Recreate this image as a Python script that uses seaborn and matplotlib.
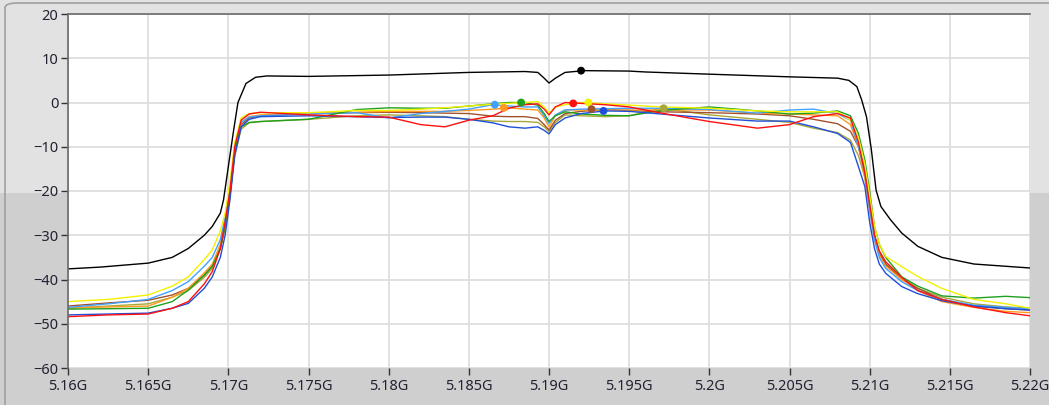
import matplotlib
matplotlib.use("Agg")
import matplotlib.pyplot as plt
import numpy as np
import pandas as pd
import seaborn as sns
from matplotlib.patches import FancyBboxPatch, Rectangle
from matplotlib.ticker import FuncFormatter

# reference trace (black)
REF_FREQ = [5.1600, 5.1620, 5.1650, 5.1665, 5.1675, 5.1685, 5.1690, 5.1695, 5.1697, 5.1701,
            5.1703, 5.1706, 5.1711, 5.1717, 5.1724, 5.1750, 5.1800, 5.1850, 5.1885, 5.1893,
            5.1897, 5.1900, 5.1904, 5.1910, 5.1922, 5.1950, 5.1960, 5.2000, 5.2050, 5.2080,
            5.2087, 5.2092, 5.2095, 5.2098, 5.2101, 5.2104, 5.2107, 5.2113, 5.2120, 5.2130,
            5.2145, 5.2165, 5.2200]
REF_DB = [-37.6, -37.2, -36.3, -35.0, -33.0, -30.0, -28.0, -25.0, -22.0, -12.0,
          -7.0, 0.0, 4.3, 5.7, 6.0, 5.9, 6.2, 6.8, 7.0, 6.8,
          5.5, 4.4, 5.5, 6.8, 7.2, 7.1, 6.9, 6.4, 5.8, 5.5,
          5.0, 3.6, 0.6, -3.2, -10.5, -19.8, -23.5, -26.5, -29.5, -32.5,
          -35.0, -36.5, -37.4]

# shared frequency grid for the coloured traces (GHz)
FREQ = [5.1600, 5.1625, 5.1650, 5.1665, 5.1675, 5.1685, 5.1690, 5.1695, 5.1698, 5.1701,
        5.1704, 5.1708, 5.1713, 5.1720, 5.1750, 5.1780, 5.1800, 5.1820, 5.1835, 5.1850,
        5.1865, 5.1875, 5.1885, 5.1893, 5.1897, 5.1900, 5.1904, 5.1910, 5.1920, 5.1935,
        5.1950, 5.1970, 5.2000, 5.2030, 5.2050, 5.2065, 5.2080, 5.2088, 5.2093, 5.2097,
        5.2100, 5.2103, 5.2106, 5.2110, 5.2120, 5.2130, 5.2145, 5.2165, 5.2185, 5.2200]

RED_DB = [-48.4, -48.0, -47.8, -46.5, -45.0, -41.0, -38.2, -33.0, -27.0, -20.0,
          -10.0, -4.0, -2.6, -2.2, -2.8, -3.2, -3.3, -5.0, -5.5, -4.0,
          -3.0, -1.3, -0.5, -0.3, -1.5, -2.8, -1.0, 0.0, -0.2, -0.5,
          -1.0, -2.4, -4.3, -5.8, -5.0, -3.2, -2.5, -3.5, -9.0, -16.0,
          -23.0, -30.0, -33.5, -36.0, -39.5, -42.5, -44.5, -46.2, -47.5, -48.2]
BLUE_DB = [-48.0, -47.8, -47.6, -46.5, -45.4, -42.0, -39.4, -35.0, -30.0, -22.0,
           -12.0, -5.5, -3.8, -3.2, -3.0, -3.2, -3.4, -3.3, -3.3, -3.8,
           -4.6, -5.5, -5.8, -5.5, -6.3, -7.1, -5.0, -3.5, -2.5, -1.9,
           -2.0, -2.6, -3.5, -4.2, -4.2, -5.5, -7.0, -9.0, -14.5, -19.0,
           -27.0, -33.0, -36.5, -38.6, -41.6, -43.2, -44.8, -46.0, -46.6, -46.9]
GREEN_DB = [-46.7, -46.6, -46.5, -45.0, -42.4, -39.0, -37.0, -33.0, -28.0, -21.0,
            -11.0, -5.5, -4.5, -4.3, -3.8, -1.6, -1.2, -1.3, -1.3, -0.8,
            -0.3, 0.0, 0.0, -0.6, -2.5, -4.3, -3.0, -2.1, -2.6, -2.9,
            -3.0, -1.8, -1.0, -1.9, -2.6, -2.4, -1.9, -3.0, -7.0, -13.0,
            -20.0, -28.0, -32.0, -35.0, -39.4, -41.5, -43.7, -44.2, -43.8, -44.1]
YELLOW_DB = [-45.0, -44.5, -43.5, -41.5, -39.4, -35.5, -33.3, -29.0, -25.0, -18.0,
             -9.0, -3.5, -2.5, -2.3, -2.3, -1.8, -1.8, -1.5, -1.2, -0.8,
             -0.4, -0.2, 0.0, 0.2, -1.0, -2.4, -1.0, -0.5, 0.0, -0.3,
             -0.6, -1.0, -1.3, -1.9, -2.1, -2.1, -2.1, -4.0, -8.0, -14.0,
             -21.0, -28.0, -32.0, -34.8, -37.1, -39.3, -42.0, -44.5, -45.5, -46.5]
LIGHTBLUE_DB = [-46.3, -45.5, -44.5, -42.5, -40.5, -37.0, -35.0, -31.0, -26.0, -19.0,
                -10.0, -4.5, -3.3, -3.0, -2.6, -2.3, -3.5, -2.5, -2.0, -1.5,
                -0.5, -0.8, -1.0, -1.0, -3.0, -4.7, -2.8, -1.7, -1.5, -1.4,
                -1.3, -1.3, -1.6, -2.4, -1.7, -1.5, -2.5, -4.0, -10.0, -16.0,
                -24.0, -31.0, -35.0, -37.5, -40.5, -42.5, -44.5, -45.8, -46.3, -46.6]
ORANGE_DB = [-46.4, -46.2, -46.0, -44.0, -42.0, -38.5, -36.5, -32.0, -27.0, -20.0,
             -10.0, -4.5, -3.2, -2.8, -2.5, -2.2, -2.0, -2.0, -2.0, -1.8,
             -1.5, -1.2, -1.5, -1.7, -3.5, -5.5, -3.0, -1.7, -1.7, -1.7,
             -1.7, -1.7, -1.7, -2.4, -2.6, -2.8, -3.0, -5.0, -10.0, -17.0,
             -24.0, -31.0, -34.5, -37.0, -40.0, -42.5, -45.0, -46.3, -47.2, -47.5]
BROWN_DB = [-46.0, -45.3, -44.7, -43.5, -42.0, -39.0, -37.0, -33.0, -28.0, -21.0,
            -11.0, -5.0, -3.5, -3.0, -2.5, -2.3, -2.2, -2.3, -2.4, -2.5,
            -3.1, -3.2, -3.2, -3.6, -5.0, -6.2, -4.0, -2.5, -2.0, -1.6,
            -1.8, -2.1, -2.3, -2.6, -3.0, -3.8, -4.8, -6.5, -10.0, -15.0,
            -23.0, -30.0, -34.0, -36.5, -40.0, -42.0, -44.5, -46.0, -46.6, -46.9]
OLIVE_DB = [-46.5, -46.0, -45.5, -44.0, -42.5, -39.5, -37.5, -33.0, -28.0, -21.0,
            -12.0, -6.0, -4.6, -4.3, -3.8, -3.0, -2.8, -3.0, -3.2, -3.8,
            -4.2, -4.3, -4.3, -4.5, -5.5, -6.6, -4.5, -2.8, -3.0, -3.2,
            -3.0, -1.3, -2.8, -3.8, -4.5, -5.8, -6.8, -8.5, -12.0, -17.0,
            -24.0, -30.0, -34.0, -36.5, -39.5, -42.0, -44.0, -45.5, -46.2, -46.5]

TRACES = ["olive", "brown", "orange", "lightblue", "green", "yellow", "blue", "red"]
TRACE_DB = [OLIVE_DB, BROWN_DB, ORANGE_DB, LIGHTBLUE_DB, GREEN_DB, YELLOW_DB, BLUE_DB, RED_DB]
COLORS = {
    "olive": "#a8a83a", "brown": "#a0522d", "orange": "#ff9a1f", "lightblue": "#42a0ff",
    "green": "#1fa01f", "yellow": "#f2f200", "blue": "#1e4fd8", "red": "#ff1010",
    "ref": "#000000",
}

# peak markers
MARKER_TRACE = ["ref", "lightblue", "orange", "green", "red", "yellow", "brown", "blue", "olive"]
MARKER_FREQ = [5.1920, 5.18662, 5.18718, 5.18826, 5.19151, 5.19245, 5.19265, 5.19340, 5.19715]
MARKER_DB = [7.2, -0.5, -1.2, 0.0, -0.2, 0.0, -1.5, -1.9, -1.3]

X_TICKS = [5.16, 5.165, 5.17, 5.175, 5.18, 5.185, 5.19, 5.195, 5.2, 5.205, 5.21, 5.215, 5.22]
Y_TICKS = [20, 10, 0, -10, -20, -30, -40, -50, -60]


def build_frame() -> pd.DataFrame:
    parts = [pd.DataFrame({"freq": FREQ, "db": vals, "trace": name}) for name, vals in zip(TRACES, TRACE_DB)]
    parts.append(pd.DataFrame({"freq": REF_FREQ, "db": REF_DB, "trace": "ref"}))
    return pd.concat(parts, ignore_index=True)


def main() -> None:
    sns.set_theme(style="whitegrid")
    plt.rcParams["font.family"] = ["Noto Sans", "DejaVu Sans"]

    fig = plt.figure(figsize=(10.49, 4.05), dpi=100, facecolor="#e2e2e2")
    # darker lower band of the panel background, and the rounded panel frame
    fig.patches.append(Rectangle((0, 0), 1, 1 - 193 / 405, transform=fig.transFigure,
                                 facecolor="#cfcfcf", edgecolor="none", zorder=-3))
    fig.patches.append(FancyBboxPatch((5 / 1049, -0.05), 1.05, 1.05 - 3 / 405,
                                      boxstyle="round,pad=0,rounding_size=0.012",
                                      transform=fig.transFigure, facecolor="none",
                                      edgecolor="#a0a0a0", linewidth=1.2, zorder=-2))

    ax = fig.add_axes([68 / 1049, 1 - 368 / 405, (1030 - 68) / 1049, (368 - 14) / 405])
    ax.set_zorder(1)
    ax.set_facecolor("white")

    df = build_frame()
    sns.lineplot(data=df, x="freq", y="db", hue="trace", hue_order=TRACES + ["ref"],
                 palette=COLORS, estimator=None, sort=False, linewidth=1.0, legend=False, ax=ax)

    markers = pd.DataFrame({"freq": MARKER_FREQ, "db": MARKER_DB, "trace": MARKER_TRACE})
    sns.scatterplot(data=markers, x="freq", y="db", hue="trace", palette=COLORS,
                    s=32, edgecolor="none", legend=False, ax=ax, zorder=5)

    ax.set_xlim(5.16, 5.22)
    ax.set_ylim(-60, 20)
    ax.set_xticks(X_TICKS)
    ax.set_yticks(Y_TICKS)
    ax.xaxis.set_major_formatter(FuncFormatter(lambda v, _: f"{v:.6g}G"))
    ax.set_xlabel("")
    ax.set_ylabel("")
    ax.grid(True, color="#dedede", linewidth=1.3)

    for side in ("right", "bottom"):
        ax.spines[side].set_visible(False)
    for side in ("left", "top"):
        ax.spines[side].set_color("#6a6a6a")
        ax.spines[side].set_linewidth(1.2)

    ax.tick_params(axis="both", which="major", direction="out", length=5, width=1.0,
                   color="#333333", labelcolor="#222233", labelsize=10.5, pad=2)
    ax.tick_params(axis="x", bottom=True, pad=3)
    ax.tick_params(axis="y", left=True)

    fig.savefig("out.png", dpi=100, facecolor=fig.get_facecolor())
    plt.close(fig)


if __name__ == "__main__":
    main()
